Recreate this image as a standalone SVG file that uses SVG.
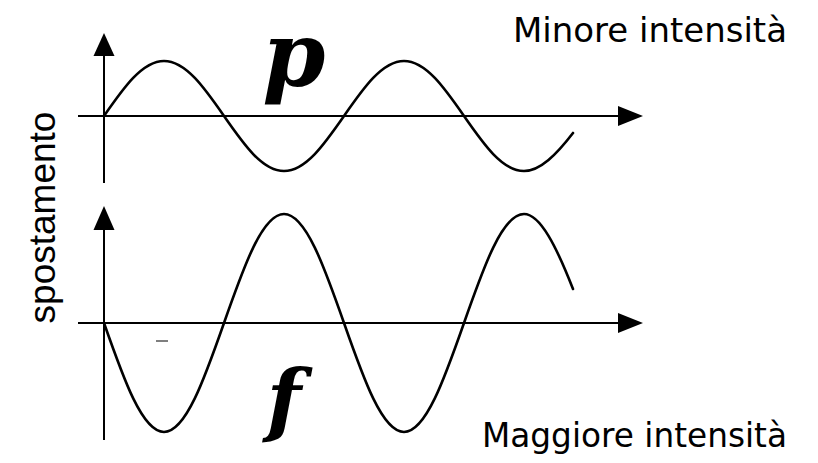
<svg xmlns="http://www.w3.org/2000/svg" width="818" height="463" viewBox="0 0 818 463">
<style>
.axis{stroke:#000;stroke-width:2;fill:none}
.wave{stroke:#000;stroke-width:2.6;fill:none;stroke-linecap:round}
.head{fill:#000}
.lbl{font-family:"DejaVu Sans","Liberation Sans",sans-serif;font-size:34px;fill:#000}
.ylbl{font-family:"Liberation Sans",Arial,sans-serif;font-size:37px;fill:#000}
.dyn{font-family:"DejaVu Serif","Liberation Serif",serif;font-weight:bold;font-style:italic;fill:#000}
</style>
<rect width="818" height="463" fill="#fff"/>
<g id="top-plot">
  <line class="axis" x1="104" y1="50" x2="104" y2="183"/>
  <polygon class="head" points="104,33 93.5,56 114.5,56"/>
  <line class="axis" x1="78" y1="116" x2="625" y2="116"/>
  <polygon class="head" points="643,116 618,106 618,126"/>
  <path class="wave" d="M104,116 C123.55,87.85 142.29,61 164,61 C185.71,61 204.45,87.85 224,116 C243.55,144.15 262.29,171 284,171 C305.71,171 324.45,144.15 344,116 C363.55,87.85 382.29,61 404,61 C425.71,61 444.45,87.85 464,116 C483.55,144.15 502.29,171 524,171 C540.3,171 556.7,154.2 573,133"/>
</g>
<g id="bottom-plot">
  <line class="axis" x1="104" y1="222" x2="104" y2="440"/>
  <polygon class="head" points="104,206 93.5,230 114.5,230"/>
  <line class="axis" x1="78" y1="323" x2="625" y2="323"/>
  <polygon class="head" points="643,323 618,313 618,333"/>
  <path class="wave" d="M104,323 C123.55,378.79 142.29,432 164,432 C185.71,432 204.45,378.79 224,323 C243.55,267.21 262.29,214 284,214 C305.71,214 324.45,267.21 344,323 C363.55,378.79 382.29,432 404,432 C425.71,432 444.45,378.79 464,323 C483.55,267.21 502.29,214 524,214 C540.3,214 556.7,247.3 573,289"/>
  <line x1="156" y1="341" x2="168" y2="341" stroke="#555" stroke-width="1.5"/>
</g>
<g id="labels">
  <text class="lbl" x="513" y="42" textLength="274" lengthAdjust="spacingAndGlyphs">Minore intensità</text>
  <text class="lbl" x="482" y="447" textLength="305" lengthAdjust="spacingAndGlyphs">Maggiore intensità</text>
  <text class="ylbl" transform="translate(55,217.5) rotate(-90)" text-anchor="middle">spostamento</text>
  <text class="dyn" x="294" y="86" font-size="90" text-anchor="middle">p</text>
  <text class="dyn" x="284" y="427" font-size="80" text-anchor="middle">f</text>
</g>
</svg>
